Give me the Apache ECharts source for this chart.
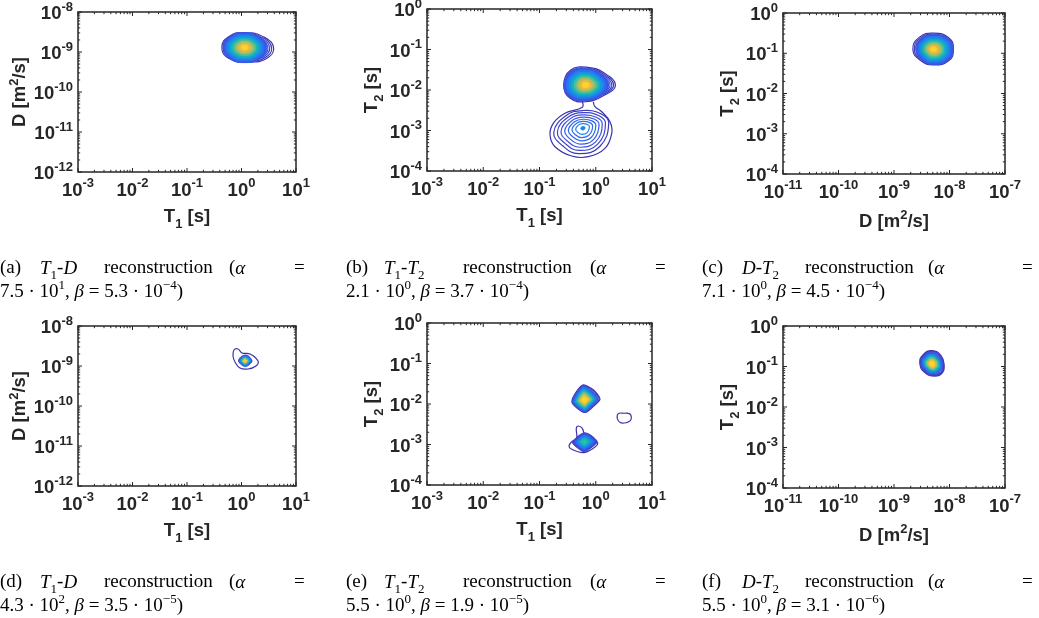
<!DOCTYPE html>
<html>
<head>
<meta charset="utf-8">
<script src="https://cdn.jsdelivr.net/npm/echarts@6.0.0/dist/echarts.min.js"></script>
<style>
  html, body { margin: 0; background: #fff; }
  #chart { width: 1039px; height: 618px; }
</style>
</head>
<body>
<div id="chart"></div>
<script>
// axis decades (tick labels are 10^k)
const T1_EXP = [-3, -2, -1, 0, 1];
const DA_EXP = [-12, -11, -10, -9, -8];
const T2_EXP = [-4, -3, -2, -1, 0];
const DB_EXP = [-11, -10, -9, -8, -7];
const MINOR_STEPS = [2, 3, 4, 5, 6, 7, 8, 9];

// caption values
const CAP_LETTERS = ['a', 'b', 'c', 'd', 'e', 'f'];
const CAP_PAIRS = ['T1-D', 'T1-T2', 'D-T2', 'T1-D', 'T1-T2', 'D-T2'];
const ALPHA_MANT = ['7.5', '2.1', '7.1', '4.3', '5.5', '5.5'];
const ALPHA_EXP = ['1', '0', '0', '2', '0', '0'];
const BETA_MANT = ['5.3', '3.7', '4.5', '3.5', '1.9', '3.1'];
const BETA_EXP = ['−4', '−4', '−4', '−5', '−5', '−6'];

// peaks: centre in log10 units, shapes as offsets in decades (E, NE, N, NW, W, SW, S, SE)
// (a) T1-D
const A_CENTRE = [0.06, -8.89];
const A_OUTLINE = [[0.53, -0.02], [0.37, 0.25], [0, 0.375], [-0.29, 0.28], [-0.42, 0], [-0.29, -0.27], [0.08, -0.36], [0.40, -0.27]];
const A_LINES = [1, 0.93, 0.86, 0.8];
const A_CORE = [[0.40, 0], [0.28, 0.26], [0, 0.375], [-0.28, 0.27], [-0.40, 0], [-0.28, -0.27], [0, -0.375], [0.28, -0.27]];
const A_FILLS = [1, 0.88, 0.76, 0.64, 0.52, 0.4, 0.28, 0.16];

// (b) T1-T2, upper and lower peak
const B_UP_CENTRE = [-0.18, -1.88];
const B_UP_OUTLINE = [[0.53, 0], [0.33, 0.30], [0.04, 0.44], [-0.27, 0.37], [-0.39, 0], [-0.28, -0.32], [0, -0.41], [0.33, -0.25]];
const B_UP_LINES = [1, 0.94, 0.88, 0.82, 0.77];
const B_UP_CORE = [[0.40, 0], [0.27, 0.28], [0.02, 0.41], [-0.26, 0.33], [-0.385, 0], [-0.27, -0.30], [0, -0.37], [0.27, -0.26]];
const B_UP_FILLS = [1, 0.88, 0.76, 0.64, 0.52, 0.4, 0.28, 0.16];
const B_LOW_CENTRE = [-0.227, -2.938];
const B_LOW_OUTER = [[-0.239, -2.289], [-0.239, -2.428], [-0.547, -2.575], [-0.755, -2.822], [-0.813, -3.111], [-0.724, -3.400],
  [-0.428, -3.630], [-0.132, -3.647], [0.164, -3.440], [0.284, -3.069], [0.253, -2.783], [0.106, -2.536], [-0.013, -2.412], [-0.044, -2.289]];
const B_LOW_SHAPE = [[0.52, 0.15], [0.36, 0.40], [0, 0.49], [-0.34, 0.35], [-0.59, -0.12], [-0.41, -0.50], [-0.09, -0.72], [0.34, -0.52]];
const B_LOW_LINES = [0.88, 0.77, 0.66, 0.55, 0.44, 0.33, 0.22];
const B_LOW_DOT = [0.07];

// (c) D-T2
const C_CENTRE = [-8.29, -0.90];
const C_OUTLINE = [[0.36, 0], [0.28, 0.28], [0, 0.40], [-0.25, 0.30], [-0.37, 0], [-0.23, -0.28], [0, -0.39], [0.28, -0.28]];
const C_LINES = [1, 0.93, 0.86];
const C_CORE = [[0.35, 0], [0.27, 0.26], [0, 0.36], [-0.22, 0.26], [-0.31, 0], [-0.2, -0.27], [0, -0.38], [0.27, -0.27]];
const C_FILLS = [1, 0.88, 0.76, 0.64, 0.52, 0.4, 0.28, 0.16];

// (d) T1-D
const D_CENTRE = [0.064, -8.875];
const D_OUTER = [[0.303, -8.875], [0.156, -8.70], [0.009, -8.675], [-0.064, -8.575], [-0.138, -8.60], [-0.156, -8.75],
  [-0.119, -8.90], [-0.028, -9.05], [0.119, -9.075], [0.266, -9.0]];
const D_CORE = [[0.13, 0], [0.07, 0.12], [0, 0.15], [-0.08, 0.10], [-0.12, 0], [-0.06, -0.10], [0.01, -0.14], [0.08, -0.09]];
const D_FILLS = [1, 0.8, 0.6, 0.4, 0.22];

// (e) T1-T2: upper diamond, lower diamond, small loop
const E_UP_CENTRE = [-0.204, -1.90];
const E_UP_OUTLINE = [[0.28, 0.02], [0.17, 0.24], [-0.02, 0.37], [-0.15, 0.18], [-0.22, -0.05], [-0.12, -0.21], [0.02, -0.31], [0.16, -0.16]];
const E_UP_LINES = [1, 0.95];
const E_UP_CORE = [[0.25, 0.02], [0.14, 0.22], [-0.02, 0.35], [-0.14, 0.17], [-0.21, -0.05], [-0.11, -0.20], [0.02, -0.30], [0.14, -0.15]];
const E_UP_FILLS = [1, 0.85, 0.7, 0.55, 0.4, 0.25];
const E_LOW_CENTRE = [-0.204, -2.93];
const E_LOW_OUTER = [[-0.191, -2.790], [-0.239, -2.600], [-0.310, -2.543], [-0.346, -2.600], [-0.339, -2.847], [-0.428, -2.931],
  [-0.476, -3.037], [-0.428, -3.119], [-0.221, -3.202], [-0.044, -3.094], [0.035, -2.970], [-0.044, -2.872], [-0.132, -2.807]];
const E_LOW_CORE = [[0.23, 0], [0.107, 0.17], [0, 0.22], [-0.124, 0.124], [-0.21, -0.025], [-0.107, -0.17], [0, -0.25], [0.124, -0.15]];
const E_LOW_FILLS = [1, 0.85, 0.7, 0.55, 0.4, 0.25];
const E_SMALL_CENTRE = [0.508, -2.338];
const E_SMALL_OUTLINE = [[0.124, 0.025], [0.09, 0.10], [0, 0.11], [-0.107, 0.10], [-0.124, -0.025], [-0.07, -0.123], [0.036, -0.123], [0.107, -0.074]];

// (f) D-T2
const F_CENTRE = [-8.315, -0.938];
const F_OUTLINE = [[0.22, -0.05], [0.16, 0.21], [0, 0.33], [-0.16, 0.23], [-0.22, 0.02], [-0.13, -0.21], [0.05, -0.30], [0.19, -0.21]];
const F_LINES = [1, 0.94, 0.88];
const F_CORE = [[0.19, -0.03], [0.13, 0.18], [0, 0.28], [-0.14, 0.2], [-0.19, 0.02], [-0.11, -0.17], [0.03, -0.25], [0.15, -0.17]];
const F_FILLS = [1, 0.85, 0.7, 0.55, 0.4, 0.25];

// colour levels (fraction of the colormap)
const OUTER_TONES = [0.02, 0.05, 0.08, 0.11, 0.14];
const FULL_TONES = [0.12, 0.2, 0.3, 0.42, 0.55, 0.68, 0.8, 0.92];
const SHORT_TONES = [0.12, 0.25, 0.42, 0.6, 0.78, 0.92];
const B_LOW_TONES = [0.04, 0.07, 0.1, 0.13, 0.16, 0.19, 0.22];
const E_LOW_TONES = [0.06, 0.12, 0.2, 0.3, 0.4, 0.5];

const FONT = '"Liberation Sans", Arial, sans-serif';
const SERIF = '"Liberation Serif", "Times New Roman", serif';
const INK = '#262626';
const PARULA = ['#3b2c9e', '#3e4fe0', '#2775f0', '#1a94de', '#0cb0cc', '#30bca6', '#74c17e', '#b8bd5e', '#eab843', '#f8cf30', '#f6ec1c'];

const GRIDS = [
  { left: 78, top: 12, width: 218, height: 160 },
  { left: 427, top: 9, width: 225, height: 162 },
  { left: 783, top: 13, width: 222, height: 161 },
  { left: 78, top: 326, width: 218, height: 160 },
  { left: 427, top: 323, width: 225, height: 162 },
  { left: 783, top: 326, width: 222, height: 162 }
];
const X_EXPS = [T1_EXP, T1_EXP, DB_EXP, T1_EXP, T1_EXP, DB_EXP];
const Y_EXPS = [DA_EXP, T2_EXP, T2_EXP, DA_EXP, T2_EXP, T2_EXP];
const NAME_T1 = '{m|T}{s|1}{m| [s]}';
const NAME_T2 = '{m|T}{s|2}{m| [s]}';
const NAME_D = '{m|D [m}{p|2}{m|/s]}';
const X_NAMES = [NAME_T1, NAME_T1, NAME_D, NAME_T1, NAME_T1, NAME_D];
const Y_NAMES = [NAME_D, NAME_T2, NAME_T2, NAME_D, NAME_T2, NAME_T2];

function hexRgb(h) { return [1, 3, 5].map(i => parseInt(h.substr(i, 2), 16)); }
function parula(t) {
  const x = Math.max(0, Math.min(1, t)) * (PARULA.length - 1);
  const i = Math.min(Math.floor(x), PARULA.length - 2);
  const f = x - i;
  const a = hexRgb(PARULA[i]), b = hexRgb(PARULA[i + 1]);
  return 'rgb(' + a.map((v, k) => Math.round(v + (b[k] - v) * f)).join(',') + ')';
}

function shapeRings(centre, shape, scales, tones, filled, smooth) {
  return scales.map((s, k) => ({
    c: centre,
    pts: shape.map(d => [centre[0] + s * d[0], centre[1] + s * d[1]]),
    tone: tones[k], fill: filled, smooth: smooth
  }));
}
function pathRing(centre, pts, tone, open, smooth) {
  return { c: centre, pts: pts, tone: tone, fill: false, open: open, smooth: smooth };
}

const PANEL_RINGS = [
  [].concat(
    shapeRings(A_CENTRE, A_OUTLINE, A_LINES, OUTER_TONES, false, 0.5),
    shapeRings(A_CENTRE, A_CORE, A_FILLS, FULL_TONES, true, 0.5)),
  [].concat(
    shapeRings(B_UP_CENTRE, B_UP_OUTLINE, B_UP_LINES, OUTER_TONES, false, 0.45),
    shapeRings(B_UP_CENTRE, B_UP_CORE, B_UP_FILLS, FULL_TONES, true, 0.45),
    [pathRing(B_LOW_CENTRE, B_LOW_OUTER, 0.02, true, 0.4)],
    shapeRings(B_LOW_CENTRE, B_LOW_SHAPE, B_LOW_LINES, B_LOW_TONES, false, 0.45),
    shapeRings(B_LOW_CENTRE, B_LOW_SHAPE, B_LOW_DOT, [0.26], true, 0.45)),
  [].concat(
    shapeRings(C_CENTRE, C_OUTLINE, C_LINES, OUTER_TONES, false, 0.5),
    shapeRings(C_CENTRE, C_CORE, C_FILLS, FULL_TONES, true, 0.5)),
  [].concat(
    [pathRing(D_CENTRE, D_OUTER, 0.02, false, 0.4)],
    shapeRings(D_CENTRE, D_CORE, D_FILLS, [0.1, 0.25, 0.45, 0.7, 0.9], true, 0.3)),
  [].concat(
    shapeRings(E_UP_CENTRE, E_UP_OUTLINE, E_UP_LINES, OUTER_TONES, false, 0.25),
    shapeRings(E_UP_CENTRE, E_UP_CORE, E_UP_FILLS, SHORT_TONES, true, 0.25),
    [pathRing(E_LOW_CENTRE, E_LOW_OUTER, 0.02, false, 0.35)],
    shapeRings(E_LOW_CENTRE, E_LOW_CORE, E_LOW_FILLS, E_LOW_TONES, true, 0.25),
    shapeRings(E_SMALL_CENTRE, E_SMALL_OUTLINE, [1], [0.03], false, 0.4)),
  [].concat(
    shapeRings(F_CENTRE, F_OUTLINE, F_LINES, OUTER_TONES, false, 0.5),
    shapeRings(F_CENTRE, F_CORE, F_FILLS, SHORT_TONES, true, 0.5))
];

function tickLabel(v) {
  return '{b|10}{e|' + Math.round(Math.log10(v)) + '}';
}
const TICK_RICH = {
  b: { fontFamily: FONT, fontWeight: 'bold', fontSize: 18.5, color: INK, verticalAlign: 'bottom' },
  e: { fontFamily: FONT, fontWeight: 'bold', fontSize: 13, color: INK, verticalAlign: 'bottom', padding: [0, 0, 10, 0] }
};
const NAME_RICH = {
  m: { fontFamily: FONT, fontWeight: 'bold', fontSize: 18.5, color: INK, verticalAlign: 'bottom', padding: [0, 0, 5, 0] },
  s: { fontFamily: FONT, fontWeight: 'bold', fontSize: 13, color: INK, verticalAlign: 'bottom' },
  p: { fontFamily: FONT, fontWeight: 'bold', fontSize: 13, color: INK, verticalAlign: 'bottom', padding: [0, 0, 14, 0] }
};

function tickData(xExps, yExps) {
  const xMin = Math.pow(10, xExps[0]), yMin = Math.pow(10, yExps[0]);
  const data = [];
  xExps.forEach(k => data.push([Math.pow(10, k), yMin, 0]));
  xExps.slice(0, -1).forEach(k => MINOR_STEPS.forEach(m => data.push([m * Math.pow(10, k), yMin, 1])));
  yExps.forEach(k => data.push([xMin, Math.pow(10, k), 2]));
  yExps.slice(0, -1).forEach(k => MINOR_STEPS.forEach(m => data.push([xMin, m * Math.pow(10, k), 3])));
  return data;
}
function renderTick(params, api) {
  const kind = api.value(2);
  const p = api.coord([api.value(0), api.value(1)]);
  const r = params.coordSys;
  const len = kind % 2 === 0 ? 4 : 2.2;
  const style = { stroke: INK, lineWidth: 1 };
  if (kind < 2) {
    return { type: 'group', children: [
      { type: 'line', shape: { x1: p[0], y1: r.y + r.height, x2: p[0], y2: r.y + r.height - len }, style: style },
      { type: 'line', shape: { x1: p[0], y1: r.y, x2: p[0], y2: r.y + len }, style: style }
    ] };
  }
  return { type: 'group', children: [
    { type: 'line', shape: { x1: r.x, y1: p[1], x2: r.x + len, y2: p[1] }, style: style },
    { type: 'line', shape: { x1: r.x + r.width, y1: p[1], x2: r.x + r.width - len, y2: p[1] }, style: style }
  ] };
}
function ringRenderer(rings) {
  return function (params, api) {
    const ring = rings[api.value(2)];
    const pts = ring.pts.map(q => api.coord([Math.pow(10, q[0]), Math.pow(10, q[1])]));
    const col = parula(ring.tone);
    return {
      type: ring.open ? 'polyline' : 'polygon',
      shape: { points: pts, smooth: ring.smooth },
      style: ring.fill ? { fill: col, stroke: col, lineWidth: 1 } : { fill: 'none', stroke: col, lineWidth: 1.2 }
    };
  };
}

function makeAxis(i, exps, name, gap) {
  return {
    gridIndex: i, type: 'log', logBase: 10,
    min: Math.pow(10, exps[0]), max: Math.pow(10, exps[exps.length - 1]), splitNumber: 4,
    name: name, nameLocation: 'middle', nameGap: gap,
    nameTextStyle: { fontFamily: FONT, fontWeight: 'bold', fontSize: 18.5, color: INK, rich: NAME_RICH },
    axisLine: { show: false }, axisTick: { show: false }, splitLine: { show: false }, minorTick: { show: false },
    axisLabel: { formatter: tickLabel, rich: TICK_RICH, margin: 5, showMinLabel: true, showMaxLabel: true }
  };
}

// captions
const PAIR_RICH = {
  'T1-D': '{i|T}{s|1}{n|-}{i|D}',
  'T1-T2': '{i|T}{s|1}{n|-}{i|T}{s|2}',
  'D-T2': '{i|D}{n|-}{i|T}{s|2}'
};
const CAP_X = [[0, 40, 104, 229, 294], [346, 384, 463, 590, 655], [702, 742, 805, 928, 1022]];
const CAP_Y = [271, 585];
const CAP_RICH = {
  n: { fontFamily: SERIF, fontSize: 19, color: '#000', verticalAlign: 'bottom', padding: [0, 0, 5, 0] },
  i: { fontFamily: SERIF, fontStyle: 'italic', fontSize: 19, color: '#000', verticalAlign: 'bottom', padding: [0, 0, 5, 0] },
  s: { fontFamily: SERIF, fontSize: 13, color: '#000', verticalAlign: 'bottom', padding: [0, 0, 1, 0] },
  p: { fontFamily: SERIF, fontSize: 13, color: '#000', verticalAlign: 'bottom', padding: [0, 0, 14, 0] }
};
const captionText = [];
CAP_LETTERS.forEach((L, i) => {
  const xs = CAP_X[i % 3];
  const y = CAP_Y[Math.floor(i / 3)];
  const words = ['{n|(' + L + ')}', PAIR_RICH[CAP_PAIRS[i]], '{n|reconstruction}', '{n|(}{i|α}', '{n|=}'];
  words.forEach((w, k) => captionText.push({
    type: 'text', x: xs[k], y: y, silent: true,
    style: { text: w, rich: CAP_RICH, align: 'left', verticalAlign: 'middle' }
  }));
  captionText.push({
    type: 'text', x: xs[0], y: y + 22, silent: true,
    style: {
      text: '{n|' + ALPHA_MANT[i] + ' · 10}{p|' + ALPHA_EXP[i] + '}{n|, }{i|β}{n| = ' + BETA_MANT[i] + ' · 10}{p|' + BETA_EXP[i] + '}{n|)}',
      rich: CAP_RICH, align: 'left', verticalAlign: 'middle'
    }
  });
});

const series = [];
GRIDS.forEach((g, i) => {
  series.push({
    type: 'custom', xAxisIndex: i, yAxisIndex: i, silent: true, clip: true, z: 2,
    data: PANEL_RINGS[i].map((r, k) => [Math.pow(10, r.c[0]), Math.pow(10, r.c[1]), k]),
    renderItem: ringRenderer(PANEL_RINGS[i])
  });
  series.push({
    type: 'custom', xAxisIndex: i, yAxisIndex: i, silent: true, clip: false, z: 3,
    data: tickData(X_EXPS[i], Y_EXPS[i]),
    renderItem: renderTick
  });
});

const chart = echarts.init(document.getElementById('chart'), null, { renderer: 'canvas' });
chart.setOption({
  animation: false,
  backgroundColor: '#fff',
  grid: GRIDS.map(g => Object.assign({
    show: true, borderColor: INK, borderWidth: 1.5, backgroundColor: 'transparent',
    containLabel: false, outerBoundsMode: 'none'
  }, g)),
  xAxis: GRIDS.map((g, i) => makeAxis(i, X_EXPS[i], X_NAMES[i], 35)),
  yAxis: GRIDS.map((g, i) => makeAxis(i, Y_EXPS[i], Y_NAMES[i], 41)),
  series: series,
  graphic: captionText
});
</script>
</body>
</html>
